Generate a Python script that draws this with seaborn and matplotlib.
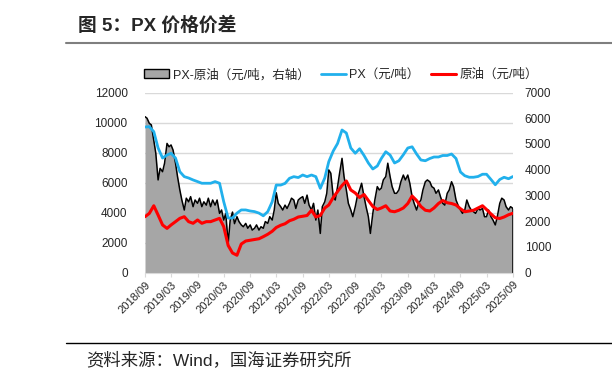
import matplotlib
matplotlib.use('Agg')
import matplotlib.pyplot as plt
from matplotlib.patches import Patch
from matplotlib.lines import Line2D
import seaborn as sns
import pandas as pd

# PX 价格（元/吨），月度，2018/09 - 2025/09
px = [9700, 9720, 9390, 8300, 7630, 7830, 7950, 7630, 6720, 6390,
      6300, 6170, 6060, 5950, 5950, 5950, 6060, 5950, 4720, 3630,
      3630, 3960, 4170, 4170, 4100, 4060, 3960, 3780, 4060, 4720,
      5830, 5830, 5940, 6280, 6390, 6330, 6500, 6390, 6500, 6390,
      5610, 6300, 7390, 8100, 8600, 9500, 9300, 8300, 7950, 8250,
      7800, 7300, 6900, 7100, 7600, 8050, 7830, 7300, 7450, 7850,
      8300, 8380, 7900, 7500, 7450, 7600, 7700, 7700, 7800, 7800,
      7900, 7600, 6700, 6450, 6350, 6350, 6400, 6550, 6550, 6200,
      5850, 6200, 6350, 6250, 6400]

# 原油价格（元/吨），月度
crude = [3720, 3940, 4450, 3830, 3170, 2940, 3170, 3390, 3610, 3720,
         3390, 3280, 3500, 3280, 3390, 3390, 3500, 3610, 3060, 1800,
         1300, 1150, 1900, 2100, 2150, 2200, 2250, 2390, 2550, 2750,
         3000, 3150, 3250, 3450, 3550, 3700, 3750, 3800, 4150, 3700,
         3800, 4300, 4500, 5000, 5400, 5800, 6100, 5500, 5300, 5000,
         5200, 4800, 4400, 4200, 4300, 4450, 4100, 4050, 4150, 4300,
         4600, 5100, 4800, 4400, 4150, 4100, 4300, 4600, 4800, 4650,
         4600, 4500, 4250, 4050, 4100, 4150, 4300, 4450, 4200, 3900,
         3650, 3600, 3700, 3850, 3950]

# PX-原油价差（元/吨，右轴），半月度
spread = [6060, 6000, 5800, 5740, 5150, 4640, 3600, 4050, 3920, 4250,
          5020, 4890, 4960, 4760, 4250, 3730, 3210, 2820, 2430, 2890,
          2750, 2950, 2560, 2820, 2690, 2890, 2560, 2750, 2620, 2890,
          2560, 2820, 2620, 2820, 2300, 2430, 2040, 2300, 1140, 2040,
          2350, 1900, 2170, 1980, 1850, 1780, 1910, 1720, 1850, 1650,
          1720, 1850, 1650, 1780, 1720, 1980, 1910, 2170, 2040, 2430,
          3100, 2690, 2560, 2430, 2620, 2490, 2690, 2890, 2820, 2490,
          2820, 2890, 2950, 2690, 3010, 2620, 2430, 2690, 2040, 2430,
          1520, 2560, 2750, 3080, 3990, 3860, 2950, 2820, 3340, 3860,
          4440, 3730, 3210, 2690, 2430, 2170, 2560, 2950, 3210, 3470,
          2950, 2560, 2170, 1520, 2300, 2820, 3340, 3210, 3280, 3600,
          3730, 4250, 3730, 3340, 3080, 3080, 3210, 3530, 3790, 3600,
          3790, 3470, 2950, 2690, 2430, 2690, 2820, 3210, 3530, 3600,
          3530, 3340, 3280, 3080, 3210, 2950, 2690, 2620, 3080, 3210,
          3530, 3340, 2820, 2620, 2430, 2300, 2430, 2820, 2560, 2430,
          2360, 2300, 2490, 2430, 2490, 2170, 2170, 2430, 2170, 2040,
          1850, 2170, 2690, 2890, 2820, 2560, 2430, 2560, 2490]

tick_labels = ['2018/09', '2019/03', '2019/09', '2020/03', '2020/09',
               '2021/03', '2021/09', '2022/03', '2022/09', '2023/03',
               '2023/09', '2024/03', '2024/09', '2025/03', '2025/09']

legend_labels = ['PX-原油（元/吨，右轴）', 'PX（元/吨）', '原油（元/吨）']

months = pd.date_range('2018-09-01', periods=len(px), freq='MS')
half_months = pd.date_range('2018-09-01', periods=len(spread), freq='SMS')
tick_dates = pd.date_range('2018-09-01', periods=len(tick_labels), freq='6MS')

sns.set_style('white')
plt.rcParams['font.family'] = ['Liberation Sans', 'Noto Sans CJK SC', 'DejaVu Sans']

BLUE = '#21b0ec'
RED = '#ff0000'
GREY = '#a6a6a6'
GRID = '#d9d9d9'

fig = plt.figure(figsize=(6.12, 3.79), dpi=100)
ax1 = fig.add_axes([145 / 612, 1 - 272.5 / 379, 368 / 612, 180 / 379])
ax2 = ax1.twinx()   # 价差，右轴
ax3 = ax1.twinx()   # PX 和原油，画在最上层

# 价差面积
ax2.fill_between(half_months, spread, color=GREY, lw=0)
sns.lineplot(x=half_months, y=spread, ax=ax2, color='black', lw=1.1)
ax2.vlines(half_months[-1], 0, spread[-1], color='black', lw=1.1)

# PX / 原油
sns.lineplot(x=months, y=px, ax=ax3, color=BLUE, lw=2)
sns.lineplot(x=months, y=crude, ax=ax3, color=RED, lw=2.2)

ax1.set_ylim(0, 12000)
ax3.set_ylim(0, 12000)
ax2.set_ylim(0, 7000)
ax1.set_yticks(range(0, 12001, 2000))
ax2.set_yticks(range(0, 7001, 1000))
ax3.set_yticks([])
ax1.set_xlim(tick_dates[0], tick_dates[-1])
ax1.set_xticks(tick_dates)
ax1.set_xticklabels(tick_labels, rotation=45, ha='right', rotation_mode='anchor', fontsize=8)

ax1.yaxis.grid(True, color=GRID, lw=1)
ax1.xaxis.grid(False)
ax1.tick_params(axis='y', left=False, labelsize=8.5, pad=9)
ax1.tick_params(axis='x', bottom=True, length=3, color=GRID, pad=2)
ax2.tick_params(axis='y', right=False, labelsize=8.5, pad=5)
ax3.tick_params(axis='y', right=False, labelright=False)
for a in (ax1, ax2, ax3):
    a.set_xlabel('')
    a.set_ylabel('')
    for s in ('top', 'left', 'right', 'bottom'):
        a.spines[s].set_visible(False)
ax3.spines['bottom'].set_visible(True)
ax3.spines['bottom'].set_color(GRID)
ax3.tick_params(axis='x', bottom=False, labelbottom=False)
ax2.tick_params(axis='x', bottom=False, labelbottom=False)

handles = [Patch(facecolor=GREY, edgecolor='black', lw=1),
           Line2D([], [], color=BLUE, lw=2),
           Line2D([], [], color=RED, lw=2.2)]
fig.legend(handles, legend_labels, loc='center', bbox_to_anchor=(341 / 612, 1 - 75 / 379),
           ncol=3, frameon=False, handlelength=2.0, handleheight=0.7,
           handletextpad=0.3, columnspacing=0.9,
           prop={'family': ['Liberation Sans', 'Noto Sans CJK SC'], 'size': 9})

# 标题和来源
fig.text(78 / 612, 1 - 26 / 379, '图 5：PX 价格价差', fontsize=13.5, fontweight='bold', va='center')
fig.add_artist(Line2D([66 / 612, 1], [1 - 43 / 379] * 2, transform=fig.transFigure,
                      color='#7f7f7f', lw=1.5))
fig.add_artist(Line2D([66 / 612, 1], [1 - 342.5 / 379] * 2, transform=fig.transFigure,
                      color='black', lw=1))
fig.text(86 / 612, 1 - 360 / 379, '资料来源：Wind，国海证券研究所', fontsize=12.5, va='center')

fig.savefig('out.png', dpi=100)
